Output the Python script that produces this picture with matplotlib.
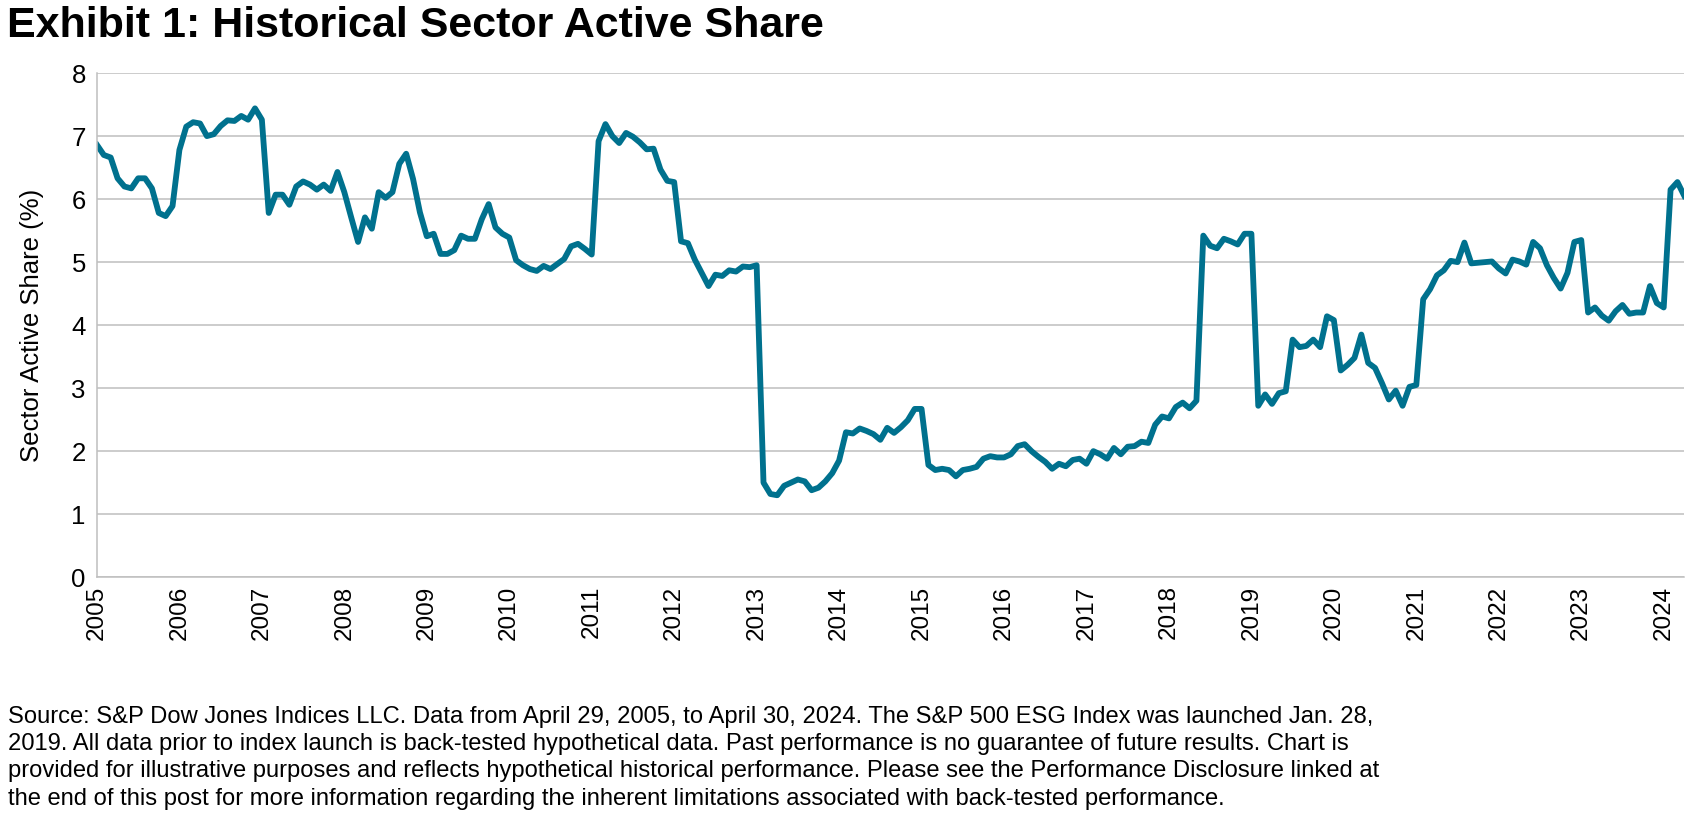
import matplotlib
matplotlib.use('Agg')
import matplotlib.pyplot as plt

plt.rcParams['font.family'] = ['Liberation Sans', 'DejaVu Sans']

# monthly sector active share (%), Jan 2005 .. Apr 2024
share_2005 = [6.86, 6.70, 6.66, 6.33, 6.20, 6.17, 6.33, 6.33, 6.17, 5.78, 5.73, 5.89]
share_2006 = [6.78, 7.15, 7.22, 7.20, 7.00, 7.03, 7.16, 7.25, 7.24, 7.32, 7.26, 7.44]
share_2007 = [7.26, 5.78, 6.07, 6.07, 5.91, 6.20, 6.28, 6.23, 6.15, 6.23, 6.13, 6.43]
share_2008 = [6.11, 5.71, 5.32, 5.71, 5.53, 6.11, 6.02, 6.11, 6.56, 6.72, 6.32, 5.79]
share_2009 = [5.41, 5.45, 5.13, 5.13, 5.19, 5.42, 5.37, 5.37, 5.68, 5.92, 5.55, 5.45]
share_2010 = [5.39, 5.03, 4.95, 4.89, 4.86, 4.94, 4.89, 4.97, 5.05, 5.25, 5.29, 5.21]
share_2011 = [5.12, 6.92, 7.19, 7.00, 6.89, 7.05, 6.99, 6.90, 6.79, 6.80, 6.47, 6.29]
share_2012 = [6.27, 5.33, 5.30, 5.04, 4.83, 4.62, 4.80, 4.78, 4.87, 4.85, 4.93, 4.92]
share_2013 = [4.95, 1.50, 1.32, 1.30, 1.45, 1.50, 1.55, 1.52, 1.38, 1.42, 1.52, 1.65]
share_2014 = [1.85, 2.30, 2.28, 2.36, 2.32, 2.27, 2.18, 2.37, 2.29, 2.38, 2.49, 2.67]
share_2015 = [2.67, 1.78, 1.70, 1.72, 1.70, 1.60, 1.70, 1.72, 1.75, 1.88, 1.92, 1.90]
share_2016 = [1.90, 1.95, 2.08, 2.11, 2.00, 1.91, 1.83, 1.72, 1.80, 1.76, 1.86, 1.88]
share_2017 = [1.80, 2.00, 1.95, 1.88, 2.05, 1.95, 2.07, 2.08, 2.15, 2.13, 2.42, 2.55]
share_2018 = [2.52, 2.70, 2.77, 2.68, 2.80, 5.42, 5.26, 5.22, 5.37, 5.33, 5.28, 5.45]
share_2019 = [5.45, 2.72, 2.90, 2.75, 2.92, 2.95, 3.77, 3.65, 3.67, 3.77, 3.65, 4.14]
share_2020 = [4.08, 3.28, 3.37, 3.48, 3.85, 3.40, 3.32, 3.08, 2.82, 2.96, 2.72, 3.02]
share_2021 = [3.05, 4.41, 4.57, 4.79, 4.87, 5.02, 5.00, 5.31, 4.98, 4.99, 5.00, 5.01]
share_2022 = [4.90, 4.82, 5.04, 5.01, 4.96, 5.32, 5.22, 4.95, 4.75, 4.58, 4.83, 5.32]
share_2023 = [5.35, 4.20, 4.28, 4.15, 4.07, 4.22, 4.32, 4.18, 4.20, 4.20, 4.62, 4.35]
share_2024 = [4.28, 6.15, 6.27, 6.05]

years = list(range(2005, 2025))
y_ticks = list(range(0, 9))

title = 'Exhibit 1: Historical Sector Active Share'
y_label = 'Sector Active Share (%)'
source = ('Source: S&P Dow Jones Indices LLC. Data from April 29, 2005, to April 30, 2024. The S&P 500 ESG Index was launched Jan. 28,\n'
          '2019. All data prior to index launch is back-tested hypothetical data. Past performance is no guarantee of future results. Chart is\n'
          'provided for illustrative purposes and reflects hypothetical historical performance. Please see the Performance Disclosure linked at\n'
          'the end of this post for more information regarding the inherent limitations associated with back-tested performance.')


def main():
    share = (share_2005 + share_2006 + share_2007 + share_2008 + share_2009
             + share_2010 + share_2011 + share_2012 + share_2013 + share_2014
             + share_2015 + share_2016 + share_2017 + share_2018 + share_2019
             + share_2020 + share_2021 + share_2022 + share_2023 + share_2024)
    months = list(range(len(share)))

    fig = plt.figure(figsize=(16.86, 8.21), dpi=100)
    ax = fig.add_axes([0.0575, 0.297, 0.9415, 0.614])

    ax.plot(months, share, color='#00718E', lw=4.2, solid_joinstyle='round')

    ax.set_xlim(0, len(share) - 1)
    ax.set_ylim(0, 8)
    ax.set_yticks(y_ticks)
    ax.set_xticks([12 * i for i in range(len(years))])
    ax.set_xticklabels([str(y) for y in years], rotation=90)
    ax.tick_params(axis='y', labelsize=18.5, length=0, pad=8)
    ax.tick_params(axis='x', labelsize=17.5, length=0, pad=6)
    ax.grid(True, axis='y', color='#BFBFBF', lw=1.1)
    ax.set_axisbelow(True)
    for side in ['top', 'right']:
        ax.spines[side].set_visible(False)
    ax.spines['left'].set_color('#BFBFBF')
    ax.spines['bottom'].set_color('#BFBFBF')
    ax.spines['left'].set_linewidth(1.1)
    ax.spines['bottom'].set_linewidth(1.1)
    ax.set_ylabel(y_label, fontsize=18.5, labelpad=20)

    fig.text(0.004, 0.993, title, fontsize=31, fontweight='bold', va='top', ha='left')
    fig.text(0.005, 0.014, source, fontsize=17.1, va='bottom', ha='left', linespacing=1.3)

    fig.savefig('out.png', dpi=100)


if __name__ == '__main__':
    main()
